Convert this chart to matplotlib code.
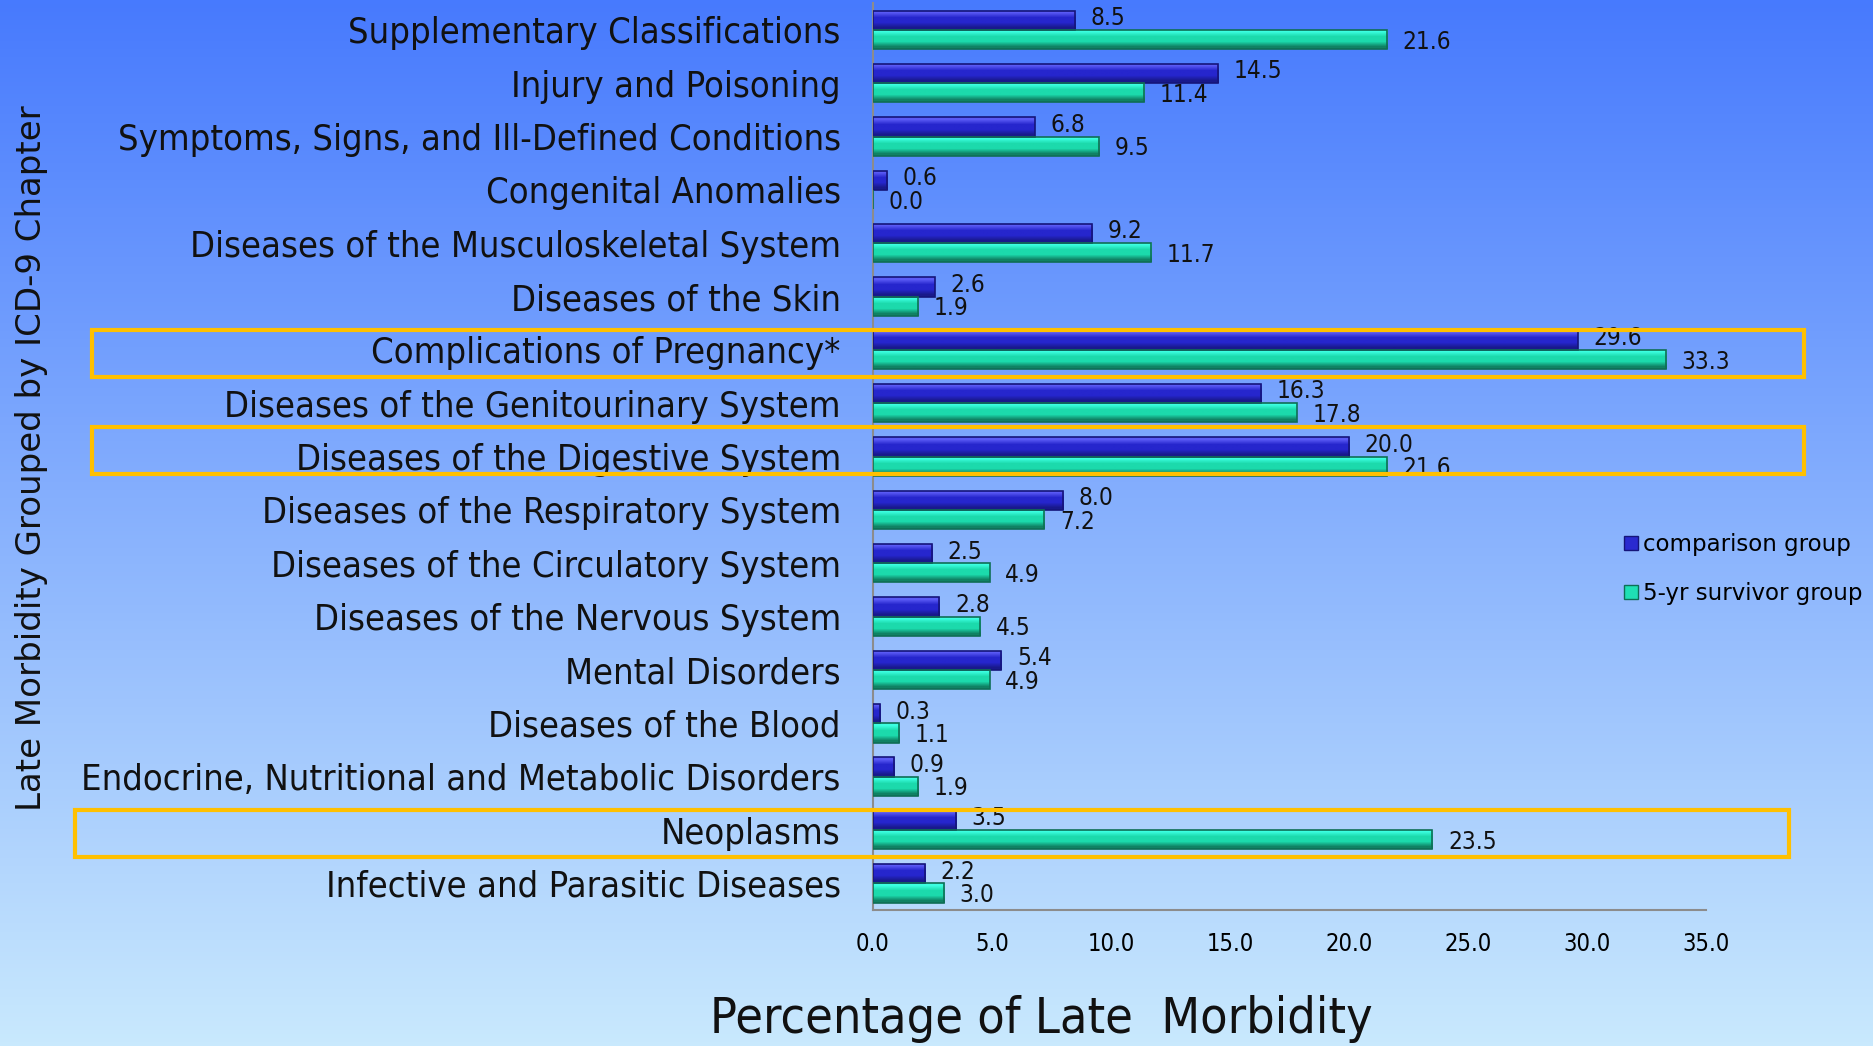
# Late morbidity by ICD-9 chapter, horizontal grouped bars

import numpy as np
import matplotlib
matplotlib.use('Agg')
import matplotlib.pyplot as plt
from matplotlib.patches import Rectangle
from matplotlib.lines import Line2D
import matplotlib.transforms as mtransforms

categories = ['Supplementary Classifications',
              'Injury and Poisoning',
              'Symptoms, Signs, and Ill-Defined Conditions',
              'Congenital Anomalies',
              'Diseases of the Musculoskeletal System',
              'Diseases of the Skin',
              'Complications of Pregnancy*',
              'Diseases of the Genitourinary System',
              'Diseases of the Digestive System',
              'Diseases of the Respiratory System',
              'Diseases of the Circulatory System',
              'Diseases of the Nervous System',
              'Mental Disorders',
              'Diseases of the Blood',
              'Endocrine, Nutritional and Metabolic Disorders',
              'Neoplasms',
              'Infective and Parasitic Diseases']
comparison = [8.5, 14.5, 6.8, 0.6, 9.2, 2.6, 29.6, 16.3, 20.0, 8.0, 2.5, 2.8, 5.4, 0.3, 0.9, 3.5, 2.2]
survivor = [21.6, 11.4, 9.5, 0.0, 11.7, 1.9, 33.3, 17.8, 21.6, 7.2, 4.9, 4.5, 4.9, 1.1, 1.9, 23.5, 3.0]
highlighted = ['Complications of Pregnancy*', 'Diseases of the Digestive System', 'Neoplasms']
xticks = [0, 5, 10, 15, 20, 25, 30, 35]

COND = dict(family='DejaVu Sans', fontstretch='condensed')

fig = plt.figure(figsize=(18.73, 10.46), dpi=100)

# background gradient
bg = fig.add_axes([0, 0, 1, 1], zorder=-10)
grad = np.linspace(0, 1, 256).reshape(-1, 1)
top = np.array([0x47, 0x7a, 0xfe]) / 255
bot = np.array([0xc9, 0xe9, 0xfd]) / 255
img = top[None, None, :] * (1 - grad[:, :, None]) + bot[None, None, :] * grad[:, :, None]
bg.imshow(img, aspect='auto', extent=[0, 1, 0, 1])
bg.axis('off')

ax = fig.add_axes([0.466, 0.130, 0.445, 0.867])
ax.patch.set_alpha(0)

n = len(categories)
y = np.arange(n)[::-1]
h = 0.36

def shaded(bars, light, mid, dark):
    # fake bevel: vertical gradient clipped to each bar
    g = np.array([light, mid, mid, dark]).reshape(-1, 1, 3)
    for b in bars:
        x0, y0 = b.get_x(), b.get_y()
        w, hh = b.get_width(), b.get_height()
        if w <= 0:
            continue
        im = ax.imshow(g, aspect='auto', extent=[x0, x0 + w, y0, y0 + hh],
                       interpolation='bilinear', zorder=3, origin='upper')
        im.set_clip_path(b)

b1 = ax.barh(y + h / 2, comparison, height=h, color='#2a2ad0', edgecolor='#15157a', linewidth=1.2, zorder=2)
b2 = ax.barh(y - h / 2, survivor, height=h, color='#1fe0b4', edgecolor='#0f6e55', linewidth=1.2, zorder=2)
shaded(b1, np.array([90, 90, 245]) / 255, np.array([38, 38, 205]) / 255, np.array([25, 25, 140]) / 255)
shaded(b2, np.array([60, 255, 225]) / 255, np.array([28, 218, 172]) / 255, np.array([16, 130, 100]) / 255)
for b in list(b1) + list(b2):
    b.set_zorder(4)
    b.set_facecolor('none')

for yi, v in zip(y, comparison):
    ax.text(v + 0.65, yi + h / 2 + 0.04, f'{v:.1f}', va='center', ha='left',
            fontsize=17.5, color='#111111', zorder=6, **COND)
for yi, v in zip(y, survivor):
    ax.text(v + 0.65, yi - h / 2 - 0.04, f'{v:.1f}', va='center', ha='left',
            fontsize=17.5, color='#111111', zorder=6, **COND)

ax.set_xlim(0, 35)
ax.set_ylim(-0.5, n - 0.5)
ax.set_xticks(xticks)
ax.set_xticklabels([f'{t:.1f}' for t in xticks], fontsize=17, **COND)
ax.set_yticks(y)
ax.set_yticklabels(categories, fontsize=26, color='#111111', **COND)
ax.tick_params(axis='both', length=0)
ax.tick_params(axis='x', pad=16)
ax.tick_params(axis='y', pad=23)
for s in ['top', 'right']:
    ax.spines[s].set_visible(False)
for s in ['left', 'bottom']:
    ax.spines[s].set_color('#8c8c8c')
    ax.spines[s].set_linewidth(1.5)

# orange highlight boxes around key chapters (hand placed in the original)
trans = mtransforms.blended_transform_factory(fig.transFigure, ax.transData)
box_x = {'Complications of Pregnancy*': (0.049, 0.963),
         'Diseases of the Digestive System': (0.049, 0.963),
         'Neoplasms': (0.040, 0.955)}
box_dy = {'Complications of Pregnancy*': -0.07,
          'Diseases of the Digestive System': 0.11,
          'Neoplasms': -0.06}
for name in highlighted:
    yi = y[categories.index(name)] + box_dy[name]
    x0, x1 = box_x[name]
    fig.patches.append(Rectangle((x0, yi - 0.44), x1 - x0, 0.88, transform=trans,
                                 fill=False, edgecolor='#ffc000', linewidth=3, zorder=8))

handles = [Line2D([], [], marker='s', linestyle='none', markersize=10,
                  markerfacecolor='#2a2ad0', markeredgecolor='#15157a'),
           Line2D([], [], marker='s', linestyle='none', markersize=10,
                  markerfacecolor='#1fe0b4', markeredgecolor='#0f6e55')]
fig.legend(handles, ['comparison group', '5-yr survivor group'],
           loc='center left', bbox_to_anchor=(0.855, 0.456), frameon=False,
           prop=dict(family='DejaVu Sans', size=16.5),
           handletextpad=0.1, labelspacing=1.15, handlelength=0.8)

fig.text(0.017, 0.562, 'Late Morbidity Grouped by ICD-9 Chapter', rotation=90,
         ha='center', va='center', fontsize=24.5, family='DejaVu Sans', color='#111111')
fig.text(0.556, 0.026, 'Percentage of Late  Morbidity', ha='center', va='center',
         fontsize=36, color='#111111', **COND)

fig.savefig('out.png', dpi=100)
